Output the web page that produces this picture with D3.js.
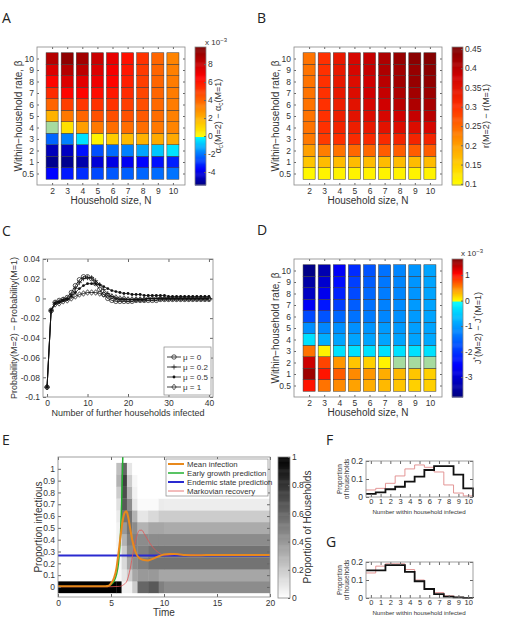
<!DOCTYPE html>
<meta charset="utf-8">
<style>
  body { margin: 0; background: #fff; }
  svg text { font-family: "Liberation Sans", Arial, sans-serif; fill: #333; }
  svg text.lbl { font-family: "Open Sans", sans-serif; font-size: 14px; fill: #222; }
</style>
<body>
<svg width="510" height="617"></svg>
<script src="https://d3js.org/d3.v7.min.js"></script>
<script>
var svg = d3.select("svg");

// ---------------- data ----------------
var sizes = [2, 3, 4, 5, 6, 7, 8, 9, 10];
var betas = ["0.5", "1", "2", "3", "4", "5", "6", "7", "8", "9", "10"];

// A: alpha_c(M=2) - alpha_c(M=1)  (x 10^-3), one row per household size, beta 0.5 .. 10
var alphaDiff = [
  [-3.6, -5.2, -4.6, -2.2, 0, 2.0, 4.0, 5.5, 6.5, 7.5, 8.5],
  [-3.3, -5.2, -4.5, -1.8, 0.8, 3.5, 5.0, 6.5, 7.5, 8.5, 9.5],
  [-3.0, -4.8, -3.4, -0.4, 2.5, 4.0, 5.2, 6.5, 7.3, 8.3, 9.0],
  [-2.6, -4.2, -2.5, 0.3, 3.5, 4.5, 5.3, 6.3, 7.0, 7.5, 8.0],
  [-2.4, -4.0, -2.1, 1.3, 3.8, 4.6, 5.3, 6.0, 6.5, 6.8, 7.2],
  [-2.3, -3.8, -1.8, 1.8, 3.8, 4.5, 5.0, 5.5, 5.8, 6.0, 6.2],
  [-2.2, -3.6, -1.3, 2.0, 3.8, 4.3, 4.6, 4.8, 5.0, 5.1, 5.3],
  [-2.1, -3.4, -0.8, 2.2, 3.5, 3.8, 3.9, 4.0, 4.0, 4.0, 4.0],
  [-2.0, -3.2, -0.4, 2.2, 3.2, 3.3, 3.4, 3.4, 3.4, 3.3, 3.2]
];
// B: r(M=2) - r(M=1)
var rDiff = [
  [0.105, 0.16, 0.20, 0.235, 0.24, 0.24, 0.24, 0.24, 0.24, 0.24, 0.24],
  [0.11, 0.17, 0.23, 0.29, 0.30, 0.30, 0.30, 0.30, 0.30, 0.30, 0.30],
  [0.11, 0.17, 0.24, 0.30, 0.32, 0.33, 0.33, 0.34, 0.34, 0.34, 0.34],
  [0.11, 0.17, 0.25, 0.31, 0.33, 0.35, 0.35, 0.36, 0.36, 0.37, 0.37],
  [0.11, 0.17, 0.25, 0.31, 0.34, 0.36, 0.37, 0.38, 0.38, 0.39, 0.39],
  [0.11, 0.17, 0.26, 0.31, 0.35, 0.37, 0.38, 0.39, 0.40, 0.41, 0.41],
  [0.11, 0.17, 0.26, 0.32, 0.36, 0.38, 0.40, 0.41, 0.42, 0.42, 0.43],
  [0.11, 0.17, 0.26, 0.32, 0.36, 0.39, 0.41, 0.42, 0.43, 0.43, 0.44],
  [0.11, 0.17, 0.26, 0.32, 0.37, 0.40, 0.415, 0.425, 0.435, 0.44, 0.445]
];
// D: J*(M=2) - J*(M=1)  (x 10^-3)
var jDiff = [
  [1.0, 1.5, 1.3, 0.6, -0.3, -1.1, -1.8, -2.6, -3.1, -3.4, -3.7],
  [0.6, 1.0, 0.8, 0.05, -0.8, -1.2, -1.7, -2.3, -2.7, -3.0, -3.3],
  [0.5, 0.7, 0.45, -0.3, -0.9, -1.1, -1.5, -1.9, -2.2, -2.4, -2.6],
  [0.4, 0.5, 0.25, -0.3, -0.9, -1.1, -1.4, -1.6, -1.8, -1.9, -2.1],
  [0.35, 0.45, 0.2, -0.3, -0.9, -1.05, -1.3, -1.4, -1.5, -1.6, -1.7],
  [0.3, 0.35, 0.05, -0.3, -0.9, -1.0, -1.2, -1.25, -1.3, -1.35, -1.4],
  [0.25, 0.3, 0, -0.3, -0.9, -1.0, -1.1, -1.15, -1.2, -1.2, -1.2],
  [0.2, 0.25, 0, -0.3, -0.9, -0.95, -1.0, -1.0, -1.05, -1.05, -1.05],
  [0.2, 0.2, 0, -0.3, -0.85, -0.9, -0.9, -0.9, -0.9, -0.9, -0.9]
];
var alphaTicks = [-4, -2, 0, 2, 4, 6, 8];
var rTicks = [0.1, 0.15, 0.2, 0.25, 0.3, 0.35, 0.4, 0.45];
var jTicks = [-3, -2, -1, 0, 1];

// C: Probability(M=2) - Probability(M=1) against further households infected
var further = d3.range(0, 41);
var muNames = ["\u03bc = 0", "\u03bc = 0.2", "\u03bc = 0.5", "\u03bc = 1"];
var muMarks = ["o", "+", ".", "d"];
var mu0 = [-0.090, -0.012, -0.004, -0.002, -0.001, 0.001, 0.006, 0.013, 0.019, 0.022, 0.022, 0.020, 0.015, 0.009, 0.004, 0.000,
  -0.002, -0.003, -0.003, -0.003, -0.003, -0.003, -0.002, -0.002, -0.002, -0.002, -0.002, -0.002, -0.001, -0.001, -0.001,
  -0.001, -0.001, -0.001, -0.001, -0.001, -0.001, -0.001, -0.001, -0.001, -0.001];
var mu02 = [-0.090, -0.012, -0.004, -0.003, -0.001, 0.000, 0.004, 0.010, 0.016, 0.020, 0.021, 0.021, 0.018, 0.014, 0.009, 0.005,
  0.002, 0.000, -0.001, -0.001, -0.001, -0.001, -0.001, -0.001, -0.001, 0.000, 0.000, 0.000, 0.000, 0.000, 0.000,
  0.000, 0.000, 0.000, 0.000, 0.000, 0.000, 0.000, 0.000, 0.000, 0.000];
var mu05 = [-0.090, -0.012, -0.005, -0.004, -0.002, -0.001, 0.002, 0.006, 0.010, 0.013, 0.015, 0.015, 0.015, 0.014, 0.012, 0.010,
  0.008, 0.007, 0.006, 0.005, 0.005, 0.004, 0.004, 0.004, 0.003, 0.003, 0.003, 0.003, 0.003, 0.003, 0.002,
  0.002, 0.002, 0.002, 0.002, 0.002, 0.002, 0.002, 0.002, 0.002, 0.002];
var mu1 = [-0.090, -0.013, -0.006, -0.005, -0.003, -0.002, 0.000, 0.002, 0.004, 0.005, 0.006, 0.006, 0.006, 0.005, 0.004, 0.003,
  0.002, 0.001, 0.000, 0.000, -0.001, -0.001, -0.001, -0.001, -0.001, 0.000, 0.000, 0.000, 0.000, 0.000, 0.000,
  0.000, 0.000, 0.000, 0.000, 0.000, 0.000, 0.000, 0.000, 0.000, 0.000];
var cYTicks = [-0.1, -0.08, -0.06, -0.04, -0.02, 0, 0.02, 0.04];
var cXTicks = [0, 10, 20, 30, 40];

// E: distribution of proportion infectious over time
var eBins = [0, 0.1, 0.2, 0.3, 0.4, 0.5, 0.6, 0.7, 0.8, 0.9, 1];
var eT0 = [0, 5.5, 6, 6.5, 7, 7.5, 8.5, 9.5, 10];
var eT1 = [5.5, 6, 6.5, 7, 7.5, 8.5, 9.5, 10, 20];
var eShare = [
  [1, 0, 0, 0, 0, 0, 0, 0, 0, 0, 0],
  [1, 0.03, 0.03, 0.03, 0.05, 0.05, 0.08, 0.12, 0.2, 0.3, 0.25],
  [0.05, 0.1, 0.15, 0.2, 0.3, 0.4, 0.55, 0.65, 0.7, 0.75, 0.6],
  [0.05, 0.2, 0.35, 0.45, 0.5, 0.55, 0.55, 0.45, 0.3, 0.2, 0.1],
  [0.2, 0.35, 0.45, 0.5, 0.5, 0.45, 0.3, 0.1, 0.05, 0.03, 0],
  [0.6, 0.4, 0.5, 0.5, 0.45, 0.3, 0.1, 0.02, 0, 0, 0],
  [0.65, 0.4, 0.55, 0.55, 0.45, 0.35, 0.15, 0.02, 0, 0, 0],
  [0.5, 0.35, 0.55, 0.55, 0.45, 0.35, 0.2, 0.08, 0, 0, 0],
  [0.45, 0.35, 0.55, 0.55, 0.45, 0.33, 0.2, 0.07, 0, 0, 0]
];
var meanT = [0, 4.5, 4.8, 5.0, 5.3, 5.5, 5.7, 5.9, 6.1, 6.3, 6.45, 6.6, 6.8, 7.0, 7.3, 7.6, 8.0, 8.5, 9.0, 9.5, 10, 10.5, 11, 11.5, 12, 13, 14, 20];
var meanP = [0.005, 0.006, 0.01, 0.03, 0.08, 0.15, 0.28, 0.43, 0.56, 0.63, 0.64, 0.6, 0.5, 0.4, 0.3, 0.25, 0.23, 0.225, 0.24, 0.26, 0.275, 0.28, 0.28, 0.275, 0.27, 0.268, 0.27, 0.27];
var growT = [4.5, 5.0, 5.3, 5.5, 5.7, 5.8, 5.9, 6.0, 6.1, 6.15];
var growP = [0.005, 0.02, 0.05, 0.1, 0.2, 0.3, 0.45, 0.7, 1.05, 1.25];
var endT = [0, 20];
var endP = [0.266, 0.266];
var markT = [0, 5, 5.8, 6.2, 6.5, 6.8, 7.1, 7.4, 7.7, 7.9, 8.2, 8.6, 9.0, 9.5, 10, 10.5, 11, 12, 14, 20];
var markP = [0.002, 0.002, 0.005, 0.02, 0.05, 0.15, 0.3, 0.42, 0.48, 0.48, 0.44, 0.38, 0.33, 0.29, 0.27, 0.27, 0.275, 0.275, 0.27, 0.27];
var eXTicks = [0, 5, 10, 15, 20];
var eYTicks = [0, 0.1, 0.2, 0.3, 0.4, 0.5, 0.6, 0.7, 0.8, 0.9, 1];
var eCTicks = [0, 0.2, 0.4, 0.6, 0.8, 1];
var eNames = ["Mean infection", "Early growth prediction", "Endemic state prediction", "Markovian recovery"];
var eColors = ["#e8891c", "#22b030", "#2a2ad0", "#e05555"];
var eWidths = [2, 1.5, 2, 0.8];

// F, G: within-household final size distributions
var hhN = [0, 1, 2, 3, 4, 5, 6, 7, 8, 9, 10];
var fBlack = [0.017, 0.026, 0.043, 0.057, 0.085, 0.113, 0.15, 0.172, 0.172, 0.124, 0.048];
var fPink = [0.039, 0.048, 0.076, 0.117, 0.156, 0.178, 0.165, 0.139, 0.067, 0.022, 0.006];
var gBlack = [0.154, 0.154, 0.183, 0.183, 0.145, 0.093, 0.05, 0.021, 0.008, 0.003, 0.001];
var gPink = [0.139, 0.177, 0.19, 0.19, 0.158, 0.1, 0.05, 0.03, 0.012, 0.004, 0.001];
var hhYTicks = [0, 0.1, 0.2];

// ---------------- helpers ----------------
function axes(x, y, o) {
  var xr = x.range(), yr = y.range();
  var L = Math.min(xr[0], xr[1]), R = Math.max(xr[0], xr[1]);
  var T = Math.min(yr[0], yr[1]), B = Math.max(yr[0], yr[1]);
  var t = o.tick || 3, none = function() { return ""; };
  var g = svg.append("g").attr("color", "#666");
  var xa = g.append("g").attr("transform", "translate(0," + B + ")")
    .call(d3.axisBottom(x).tickValues(o.xt).tickSize(-t).tickPadding(o.xpad || 3).tickFormat(o.xf || String));
  g.append("g").attr("transform", "translate(0," + T + ")")
    .call(d3.axisTop(x).tickValues(o.xt).tickSize(-t).tickFormat(none));
  var ya = g.append("g").attr("transform", "translate(" + L + ",0)")
    .call(d3.axisLeft(y).tickValues(o.yt).tickSize(-t).tickPadding(3).tickFormat(o.yf || String));
  g.append("g").attr("transform", "translate(" + R + ",0)")
    .call(d3.axisRight(y).tickValues(o.yt).tickSize(-t).tickFormat(none));
  g.selectAll(".domain").remove();
  ya.selectAll("text").attr("font-size", o.fs || 8.5);
  xa.selectAll("text").attr("font-size", o.xfs || o.fs || 8.5);
  g.append("rect").attr("x", L).attr("y", T).attr("width", R - L).attr("height", B - T)
    .attr("fill", "none").attr("stroke", "#888").attr("stroke-width", 0.8);
}

function colorbar(x0, x1, y0, y1, color, domain, ticks, fs) {
  var s = d3.scaleLinear().domain(domain).range([y1, y0]);
  var n = 128, st = (domain[1] - domain[0]) / n;
  var g = svg.append("g");
  g.selectAll("rect").data(d3.range(n)).enter().append("rect")
    .attr("x", x0).attr("width", x1 - x0)
    .attr("y", function(i) { return s(domain[0] + (i + 1) * st); })
    .attr("height", s(domain[0]) - s(domain[0] + st) + 0.5)
    .attr("fill", function(i) { return color(domain[0] + (i + 0.5) * st); });
  g.append("rect").attr("x", x0).attr("y", y0).attr("width", x1 - x0).attr("height", y1 - y0)
    .attr("fill", "none").attr("stroke", "#888").attr("stroke-width", 0.8);
  var a = svg.append("g").attr("color", "#666").attr("transform", "translate(" + x1 + ",0)")
    .call(d3.axisRight(s).tickValues(ticks).tickSize(-2).tickPadding(2).tickFormat(String));
  a.select(".domain").remove();
  a.selectAll("text").attr("font-size", fs || 8.5);
}

function divScale(lo, hi) {
  return d3.scaleLinear()
    .domain([lo, lo * 2 / 3, lo / 3, -1e-9, 0, 1e-9, hi / 3, hi * 2 / 3, hi])
    .range(["#00007f", "#0000ff", "#0080ff", "#00ffff", "#a6dba0", "#ffff00", "#ff8000", "#ff0000", "#7f0000"])
    .clamp(true);
}

function rotLabel(x, y, txt, fs) {
  return svg.append("text").attr("transform", "translate(" + x + "," + y + ") rotate(-90)")
    .attr("text-anchor", "middle").attr("font-size", fs || 10).text(txt);
}

function label(x, y, txt, fs) {
  return svg.append("text").attr("x", x).attr("y", y).attr("text-anchor", "middle")
    .attr("font-size", fs || 10).text(txt);
}

function heat(bx, by, vals, color) {
  var x = d3.scaleLinear().domain([1, 10.8]).range([bx, bx + 148]);
  var y = d3.scalePoint().domain(betas).range([by + 138, by]).padding(1);
  var h = y.step(), w = 0.8 * (x(2) - x(1));
  sizes.forEach(function(n, i) {
    svg.append("g").selectAll("rect").data(vals[i]).enter().append("rect")
      .attr("x", x(n) - w / 2)
      .attr("y", function(d, j) { return y(betas[j]) - h / 2; })
      .attr("width", w).attr("height", h)
      .attr("fill", function(d) { return color(d); })
      .attr("stroke", "#3a3a3a").attr("stroke-width", 0.5);
  });
  axes(x, y, { xt: sizes, yt: betas, tick: 2 });
  label(bx + 74, by + 157, "Household size, N");
  rotLabel(bx - 15, by + 69, "Within\u2212household rate, \u03b2");
}

// ---------------- panel A ----------------
var colA = divScale(-5.44, 9.9);
heat(37, 47, alphaDiff, colA);
colorbar(195, 206, 47, 185, colA, [-5.44, 9.9], alphaTicks);
var tA = svg.append("text").attr("transform", "translate(221,116) rotate(-90)")
  .attr("text-anchor", "middle").attr("font-size", 9);
tA.append("tspan").text("\u03b1");
tA.append("tspan").attr("dy", 2).attr("font-size", 6.5).text("c");
tA.append("tspan").attr("dy", -2).text("(M=2) \u2212 \u03b1");
tA.append("tspan").attr("dy", 2).attr("font-size", 6.5).text("c");
tA.append("tspan").attr("dy", -2).text("(M=1)");
var eA = svg.append("text").attr("x", 205).attr("y", 45).attr("font-size", 8).text("x 10");
eA.append("tspan").attr("dy", -3).attr("font-size", 6).text("\u22123");

// ---------------- panel B ----------------
var colB = d3.scaleLinear().domain([0.097, 0.2, 0.3, 0.38, 0.455])
  .range(["#ffff00", "#ffa000", "#ff3000", "#d00000", "#7a0000"]).clamp(true);
heat(294, 47, rDiff, colB);
colorbar(452, 463, 47, 185, colB, [0.097, 0.455], rTicks);
rotLabel(489, 116, "r(M=2) \u2212 r(M=1)", 9);

// ---------------- panel D ----------------
var colD = divScale(-3.78, 1.63);
heat(294, 259, jDiff, colD);
colorbar(452, 463, 259, 397, colD, [-3.78, 1.63], jTicks);
var tD = svg.append("text").attr("transform", "translate(481,328) rotate(-90)")
  .attr("text-anchor", "middle").attr("font-size", 9);
tD.append("tspan").text("J");
tD.append("tspan").attr("dy", -3).attr("font-size", 6.5).text("*");
tD.append("tspan").attr("dy", 3).text("(M=2) \u2212 J");
tD.append("tspan").attr("dy", -3).attr("font-size", 6.5).text("*");
tD.append("tspan").attr("dy", 3).text("(M=1)");
var eD = svg.append("text").attr("x", 461).attr("y", 256).attr("font-size", 8).text("x 10");
eD.append("tspan").attr("dy", -3).attr("font-size", 6).text("\u22123");

// ---------------- panel C ----------------
var xC = d3.scaleLinear().domain([-1, 41]).range([43, 213]);
var yC = d3.scaleLinear().domain([-0.1, 0.04]).range([397, 259]);
axes(xC, yC, { xt: cXTicks, yt: cYTicks });
function marker(g, type, cx, cy) {
  if (type === "o") g.append("circle").attr("cx", cx).attr("cy", cy).attr("r", 2.2)
    .attr("fill", "none").attr("stroke", "#111").attr("stroke-width", 0.7);
  else if (type === ".") g.append("circle").attr("cx", cx).attr("cy", cy).attr("r", 1.4).attr("fill", "#111");
  else if (type === "+") g.append("path").attr("d", "M" + (cx - 2.5) + "," + cy + "h5M" + cx + "," + (cy - 2.5) + "v5")
    .attr("stroke", "#111").attr("stroke-width", 0.7);
  else g.append("path").attr("d", "M" + cx + "," + (cy - 2.8) + "l2.2,2.8l-2.2,2.8l-2.2,-2.8z")
    .attr("fill", "none").attr("stroke", "#111").attr("stroke-width", 0.7);
}
var lineC = d3.line().x(function(d, i) { return xC(further[i]); }).y(function(d) { return yC(d); });
[mu0, mu02, mu05, mu1].forEach(function(s, k) {
  var g = svg.append("g");
  g.append("path").attr("d", lineC(s)).attr("fill", "none").attr("stroke", "#111").attr("stroke-width", 0.8);
  s.forEach(function(v, i) { marker(g, muMarks[k], xC(further[i]), yC(v)); });
});
var legC = svg.append("g");
legC.append("rect").attr("x", 164).attr("y", 347).attr("width", 47).attr("height", 48)
  .attr("fill", "#fff").attr("stroke", "#888").attr("stroke-width", 0.7);
muNames.forEach(function(nm, k) {
  var yy = 357 + k * 10;
  legC.append("line").attr("x1", 167).attr("x2", 181).attr("y1", yy).attr("y2", yy)
    .attr("stroke", "#111").attr("stroke-width", 0.8);
  marker(legC, muMarks[k], 174, yy);
  legC.append("text").attr("x", 183).attr("y", yy + 3).attr("font-size", 8).text(nm);
});
label(128, 416, "Number of further households infected", 9);
rotLabel(17, 328, "Probability(M=2) \u2212 Probability(M=1)", 9);

// ---------------- panel E ----------------
var xE = d3.scaleLinear().domain([0, 20]).range([58, 270]);
var yE = d3.scaleLinear().domain([-0.085, 1.1]).range([597, 457]);
var grey = d3.scaleLinear().domain([0, 1]).range(["#ffffff", "#000000"]);
svg.append("clipPath").attr("id", "clipE").append("rect")
  .attr("x", 58).attr("y", 457).attr("width", 212).attr("height", 140);
var gE = svg.append("g").attr("clip-path", "url(#clipE)");
eShare.forEach(function(col, c) {
  gE.append("g").selectAll("rect").data(col).enter().append("rect")
    .attr("x", xE(eT0[c])).attr("width", xE(eT1[c]) - xE(eT0[c]) + 0.3)
    .attr("y", function(d, j) { return yE(eBins[j] + 0.05); })
    .attr("height", function(d, j) { return yE(eBins[j] - 0.05) - yE(eBins[j] + 0.05) + 0.3; })
    .attr("fill", function(d) { return grey(d); });
});
function drawE(ts, ps, k) {
  var ln = d3.line().curve(d3.curveMonotoneX)
    .x(function(d, i) { return xE(ts[i]); }).y(function(d) { return yE(d); });
  gE.append("path").attr("d", ln(ps)).attr("fill", "none")
    .attr("stroke", eColors[k]).attr("stroke-width", eWidths[k]);
}
drawE(endT, endP, 2);
drawE(growT, growP, 1);
drawE(markT, markP, 3);
drawE(meanT, meanP, 0);
axes(xE, yE, { xt: eXTicks, yt: eYTicks });
var legE = svg.append("g");
legE.append("rect").attr("x", 166).attr("y", 459).attr("width", 102).attr("height", 37)
  .attr("fill", "#fff").attr("stroke", "#888").attr("stroke-width", 0.7);
eNames.forEach(function(nm, k) {
  var yy = 464 + k * 9;
  legE.append("line").attr("x1", 168).attr("x2", 184).attr("y1", yy).attr("y2", yy)
    .attr("stroke", eColors[k]).attr("stroke-width", eWidths[k]);
  legE.append("text").attr("x", 187).attr("y", yy + 3).attr("font-size", 7.8).text(nm);
});
colorbar(278, 290, 457, 598, grey, [0, 1], eCTicks);
label(164, 616, "Time", 10);
rotLabel(42, 527, "Proportion infectious", 10);
rotLabel(311, 527, "Proportion of Households", 10);

// ---------------- panels F, G ----------------
function hist(by, black, pink) {
  var x = d3.scaleLinear().domain([-0.5, 10.5]).range([366, 473]);
  var y = d3.scaleLinear().domain([0, 0.2]).range([by + 36, by]);
  var ln = d3.line().curve(d3.curveStepAfter).x(function(d) { return x(d[0]); }).y(function(d) { return y(d[1]); });
  function pts(v) {
    var p = hhN.map(function(n, i) { return [n - 0.5, v[i]]; });
    p.push([10.5, v[v.length - 1]], [10.5, 0]);
    return p;
  }
  svg.append("path").attr("d", ln(pts(pink))).attr("fill", "none").attr("stroke", "#e08a8a").attr("stroke-width", 0.9);
  svg.append("path").attr("d", ln(pts(black))).attr("fill", "none").attr("stroke", "#111").attr("stroke-width", 1.8);
  axes(x, y, { xt: hhN, yt: hhYTicks, fs: 8.5, xfs: 7.5, xpad: 2 });
  label(419, by + 52.5, "Number within household infected", 6.2);
  var t = svg.append("text").attr("transform", "translate(342," + (by + 18) + ") rotate(-90)")
    .attr("text-anchor", "middle").attr("font-size", 6.5);
  t.append("tspan").attr("x", 0).text("Proportion");
  t.append("tspan").attr("x", 0).attr("dy", 7).text("of households");
}
hist(461, fBlack, fPink);
hist(562, gBlack, gPink);

// ---------------- panel letters ----------------
[["A", 2, 23], ["B", 257, 23], ["C", 2, 236], ["D", 257, 235], ["E", 2, 445], ["F", 326, 445], ["G", 326, 547]]
  .forEach(function(p) { svg.append("text").attr("class", "lbl").attr("x", p[1]).attr("y", p[2]).text(p[0]); });
</script>
</body>
